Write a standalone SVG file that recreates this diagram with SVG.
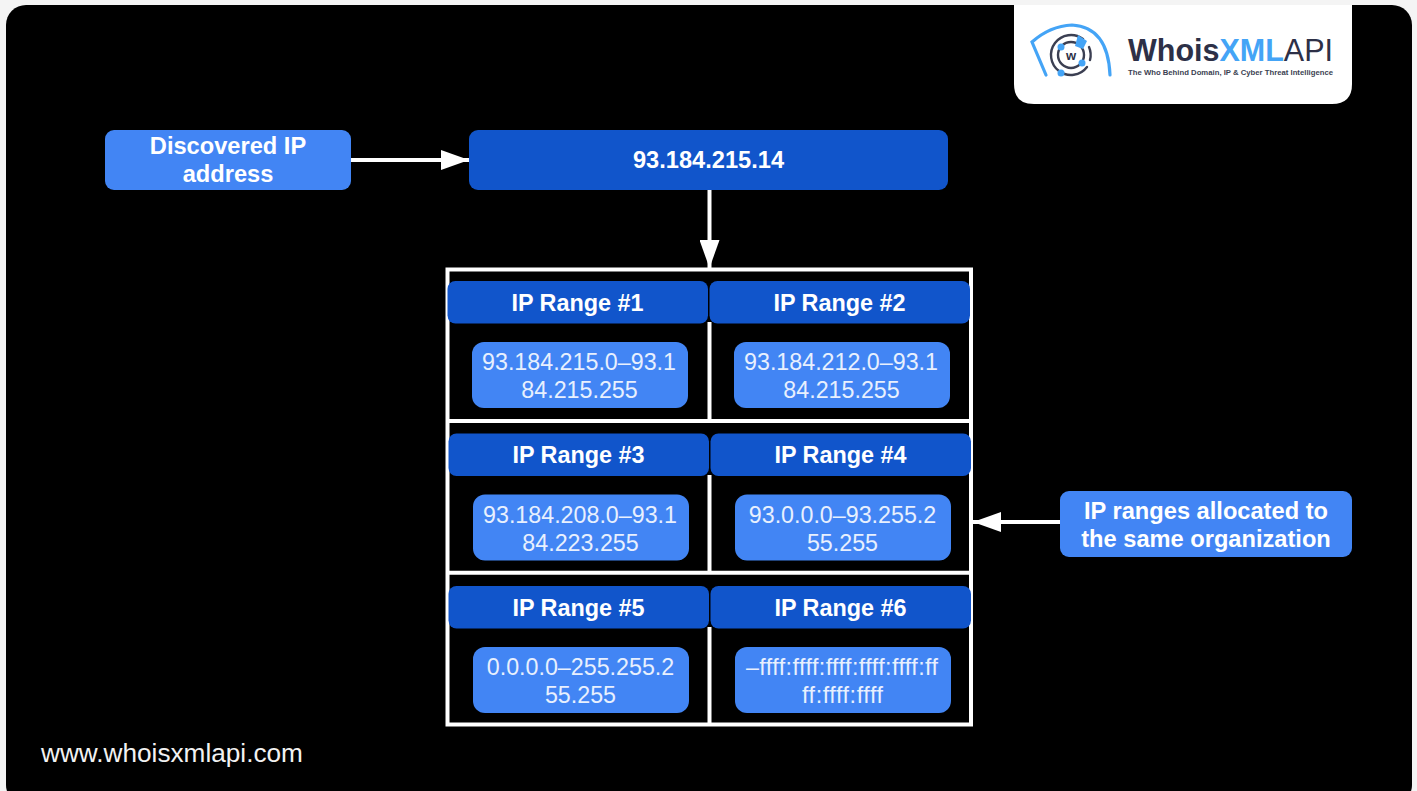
<svg xmlns="http://www.w3.org/2000/svg" width="1417" height="791" viewBox="0 0 1417 791">
<defs>
<marker id="ah" markerUnits="userSpaceOnUse" markerWidth="29" markerHeight="20" refX="28" refY="10" orient="auto"><path d="M0 0L28 10L0 20Z" fill="#fff"/></marker>
</defs>
<style>
text{font-family:"Liberation Sans",Arial,sans-serif;fill:#fff;text-anchor:middle}
.h{fill:#1155cb}
.v{fill:#4285f4}
.ht{font-size:23.400px;font-weight:700}
.vt{font-size:23.250px;fill:#e8f0fe}
.lt{font-size:23.650px;font-weight:700}
.grid{fill:none;stroke:#fff;stroke-width:4}
.con{stroke:#fff;stroke-width:4;fill:none;marker-end:url(#ah)}
</style>
<rect width="1417" height="791" fill="#f4f4f4"/>
<rect x="6" y="5" width="1406" height="800" rx="20" fill="#000"/>
<g id="logo">
<path d="M1014 5H1352V84Q1352 104 1332 104H1034Q1014 104 1014 84Z" fill="#fff"/>
<g fill="none" stroke-linecap="round">
<path d="M1046 75L1032 42Q1050 26 1072 25Q1108 27 1110 75" stroke="#44a4f6" stroke-width="3.200"/>
<path d="M1083 39A20 20 0 1 0 1087 67" stroke="#3b3f52" stroke-width="2.400"/>
<path d="M1089 47A20 20 0 0 1 1090 60" stroke="#3b3f52" stroke-width="2.400"/>
<circle cx="1071" cy="55" r="13" stroke="#3b3f52" stroke-width="2.400"/>
</g>
<path d="M1075 46L1078 35L1087 41L1083 49Z" fill="#44a4f6"/>
<circle cx="1061" cy="47" r="3.500" fill="#44a4f6"/>
<circle cx="1082" cy="63" r="3.500" fill="#44a4f6"/>
<circle cx="1061" cy="73" r="3.500" fill="#44a4f6"/>
<text x="1071" y="60" style="font-size:13px;font-weight:700;fill:#2d3047">w</text>
<text x="1128" y="61" style="font-size:31px;font-weight:700;text-anchor:start" textLength="205" lengthAdjust="spacingAndGlyphs"><tspan fill="#2d3047">Whois</tspan><tspan fill="#44a4f6">XML</tspan><tspan fill="#2d3047" font-weight="400">API</tspan></text>
<text x="1128" y="75" style="font-size:7.500px;font-weight:700;fill:#3b3f52;text-anchor:start" textLength="205" lengthAdjust="spacingAndGlyphs">The Who Behind Domain, IP &amp; Cyber Threat Intelligence</text>
</g>
<g id="connectors">
<path class="con" d="M351 160H469"/>
<path class="con" d="M709.500 189V268"/>
<path class="con" d="M1060 522H973"/>
</g>
<g id="grid">
<rect class="grid" x="447.500" y="269.500" width="523.500" height="455"/>
<path class="grid" d="M447.500 421H971M447.500 572.700H971M709.500 322V421M709.500 475V572.700M709.500 627V724.500"/>
</g>
<g id="discovered"><rect class="v" x="105" y="130" width="246" height="60" rx="9"/><text class="lt" x="228" y="154">Discovered IP</text><text class="lt" x="228" y="182">address</text></g>
<g id="ip"><rect class="h" x="469" y="130" width="479" height="60" rx="9"/><text class="lt" x="708.500" y="168">93.184.215.14</text></g>
<g id="allocated"><rect class="v" x="1060" y="491" width="292" height="66" rx="9"/><text class="lt" x="1206" y="519">IP ranges allocated to</text><text class="lt" x="1206" y="547">the same organization</text></g>
<g id="range1"><rect class="h" x="447.500" y="281" width="260.500" height="42.500" rx="8"/><text class="ht" x="577.500" y="311">IP Range #1</text><rect class="v" x="472" y="342" width="216" height="66" rx="12"/><text class="vt" x="579" y="370">93.184.215.0–93.1</text><text class="vt" x="579.500" y="398">84.215.255</text></g>
<g id="range2"><rect class="h" x="709.500" y="281" width="260.500" height="42.500" rx="8"/><text class="ht" x="839.500" y="311">IP Range #2</text><rect class="v" x="734" y="342" width="216" height="66" rx="12"/><text class="vt" x="841" y="370">93.184.212.0–93.1</text><text class="vt" x="841.500" y="398">84.215.255</text></g>
<g id="range3"><rect class="h" x="448.500" y="433.500" width="260.500" height="42.500" rx="8"/><text class="ht" x="578.500" y="463">IP Range #3</text><rect class="v" x="473" y="494.500" width="216" height="66" rx="12"/><text class="vt" x="580" y="522.500">93.184.208.0–93.1</text><text class="vt" x="580.500" y="550.500">84.223.255</text></g>
<g id="range4"><rect class="h" x="710.500" y="433.500" width="260.500" height="42.500" rx="8"/><text class="ht" x="840.500" y="463">IP Range #4</text><rect class="v" x="735" y="494.500" width="216" height="66" rx="12"/><text class="vt" x="842.500" y="522.500">93.0.0.0–93.255.2</text><text class="vt" x="842.500" y="550.500">55.255</text></g>
<g id="range5"><rect class="h" x="448.500" y="586" width="260.500" height="42.500" rx="8"/><text class="ht" x="578.500" y="616">IP Range #5</text><rect class="v" x="473" y="647" width="216" height="66" rx="12"/><text class="vt" x="580.500" y="675">0.0.0.0–255.255.2</text><text class="vt" x="580.500" y="703">55.255</text></g>
<g id="range6"><rect class="h" x="710.500" y="586" width="260.500" height="42.500" rx="8"/><text class="ht" x="840.500" y="616">IP Range #6</text><rect class="v" x="735" y="647" width="216" height="66" rx="12"/><text class="vt" x="842" y="675" textLength="192">–ffff:ffff:ffff:ffff:ffff:ff</text><text class="vt" x="842.500" y="703" textLength="81">ff:ffff:ffff</text></g>
<text id="url" x="41" y="762" style="font-size:26.200px;text-anchor:start;fill:#f2f2f2">www.whoisxmlapi.com</text>
</svg>
